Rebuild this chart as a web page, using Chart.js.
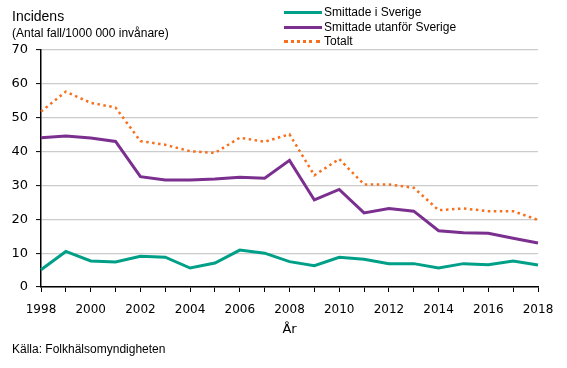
<!DOCTYPE html>
<html>
<head>
<meta charset="utf-8">
<script src="https://cdn.jsdelivr.net/npm/chart.js@4/dist/chart.umd.min.js"></script>
<style>
  html, body { margin: 0; padding: 0; background: #fff; }
  #wrap { position: relative; width: 567px; height: 368px; overflow: hidden; font-family: "Liberation Sans", Arial, sans-serif; color: #000; }
  #c { position: absolute; left: 0; top: 0; }
  .t { position: absolute; white-space: nowrap; line-height: 1; }
  .leg { position: absolute; left: 284px; }
  .leg .row { position: absolute; left: 0; white-space: nowrap; height: 14px; }
  .leg .sw { position: absolute; left: 0; top: 6px; width: 38px; height: 0; }
  .leg .lbl { position: absolute; left: 40px; top: 0; font-size: 12px; line-height: 14px; }
</style>
</head>
<body>
<div id="wrap">
  <canvas id="c" width="567" height="368"></canvas>
  <div class="t" style="left:12px; top:9px; font-size:14px;">Incidens</div>
  <div class="t" style="left:12px; top:27px; font-size:12px;">(Antal fall/1000 000 invånare)</div>
  <div class="t" style="left:12px; top:343px; font-size:12px;">Källa: Folkhälsomyndigheten</div>
  <div class="leg" id="leg"></div>
</div>
<script>
const years = ["1998","1999","2000","2001","2002","2003","2004","2005","2006","2007","2008","2009","2010","2011","2012","2013","2014","2015","2016","2017","2018"];
const seriesNames = ["Smittade i Sverige", "Smittade utanför Sverige", "Totalt"];
const inSweden = [5.1, 10.5, 7.7, 7.4, 9.1, 8.8, 5.6, 7.1, 10.9, 10.0, 7.5, 6.3, 8.8, 8.2, 6.9, 6.9, 5.6, 6.9, 6.6, 7.7, 6.5];
const outsideSweden = [44.1, 44.6, 44.0, 43.0, 32.6, 31.6, 31.6, 31.9, 32.4, 32.1, 37.4, 25.7, 28.8, 21.9, 23.2, 22.4, 16.6, 16.0, 15.9, 14.4, 13.0];
const total = [51.8, 57.7, 54.4, 53.0, 43.1, 42.0, 40.1, 39.6, 44.1, 42.9, 45.1, 33.0, 37.8, 30.3, 30.3, 29.3, 22.7, 23.2, 22.4, 22.4, 19.8];
const yTicks = [0, 10, 20, 30, 40, 50, 60, 70];
const xAxisTitle = "År";

const colors = ["#00a088", "#7b2f8e", "#f8701e"];

// HTML legend
const leg = document.getElementById('leg');
const rowTops = [5, 20, 34];
seriesNames.forEach((n, i) => {
  const r = document.createElement('div');
  r.className = 'row';
  r.style.top = rowTops[i] + 'px';
  const sw = document.createElement('div');
  sw.className = 'sw';
  if (i < 2) {
    sw.style.borderTop = '3px solid ' + colors[i];
  } else {
    sw.style.borderTop = '3px dotted ' + colors[i];
    sw.style.width = '36px';
  }
  const l = document.createElement('div');
  l.className = 'lbl';
  l.textContent = n;
  r.appendChild(sw); r.appendChild(l);
  leg.appendChild(r);
});

const tickFont = { family: "DejaVu Sans", size: 12 };

new Chart(document.getElementById('c'), {
  type: 'line',
  data: {
    labels: years,
    datasets: [
      { label: seriesNames[0], data: inSweden, borderColor: colors[0], borderWidth: 3, pointRadius: 0, tension: 0, order: 3 },
      { label: seriesNames[1], data: outsideSweden, borderColor: colors[1], borderWidth: 3, pointRadius: 0, tension: 0, order: 2 },
      { label: seriesNames[2], data: total, borderColor: colors[2], borderWidth: 2.5, borderDash: [2.5, 3.5], pointRadius: 0, tension: 0, order: 1 }
    ]
  },
  options: {
    responsive: false,
    animation: false,
    layout: { padding: { left: 0, right: 29, top: 50, bottom: 29 } },
    plugins: { legend: { display: false }, tooltip: { enabled: false } },
    scales: {
      x: {
        type: 'category',
        offset: false,
        grid: { display: true, drawOnChartArea: false, drawTicks: true, tickLength: 5, tickColor: '#000', tickWidth: 1 },
        border: { display: true, color: '#000', width: 1.5 },
        ticks: {
          autoSkip: false, maxRotation: 0, minRotation: 0, color: '#000', font: tickFont, padding: 11,
          callback: function(v, i) { const y = years[i]; return (parseInt(y) % 2 === 0) ? y : ''; }
        },
        title: { display: true, text: xAxisTitle, color: '#000', font: { family: "DejaVu Sans", size: 13 }, padding: { top: 2, bottom: 2 } },
        afterFit: function(s) { s.height = 52; }
      },
      y: {
        min: 0, max: 70,
        afterBuildTicks: function(s) { s.ticks = yTicks.map(v => ({ value: v })); },
        grid: { display: true, color: '#cccccc', lineWidth: 1.2, drawTicks: true, tickLength: 5, tickColor: '#000', tickWidth: 1 },
        border: { display: true, color: '#000', width: 1.5 },
        ticks: { color: '#000', font: { family: "DejaVu Sans", size: 13 }, padding: 8 },
        afterFit: function(s) { s.width = 41; }
      }
    }
  }
});
</script>
</body>
</html>
